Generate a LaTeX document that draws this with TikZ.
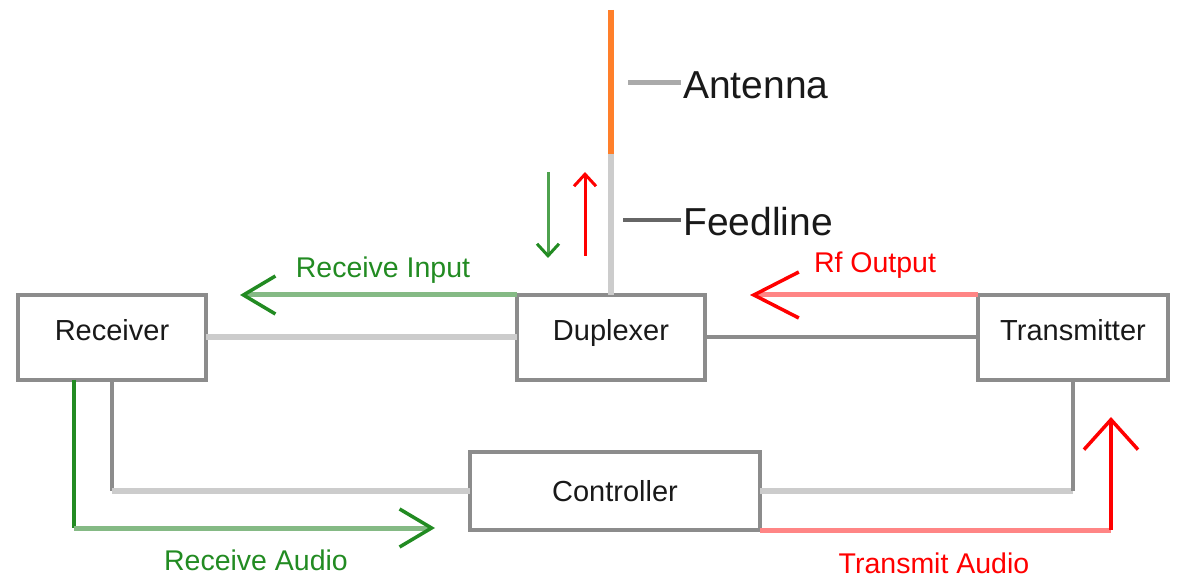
\documentclass[tikz,border=0pt]{standalone}
\usepackage{fontspec}
\setmainfont{Liberation Sans}
\usetikzlibrary{arrows.meta,calc}
\definecolor{boxgray}{HTML}{8C8C8C}
\definecolor{lgray}{HTML}{CCCCCC}
\definecolor{dashgray}{HTML}{AAAAAA}
\definecolor{dashdark}{HTML}{666666}
\definecolor{dgreen}{HTML}{228B22}
\definecolor{lgreen}{HTML}{85BA85}
\definecolor{pinkred}{HTML}{FF8585}
\definecolor{brred}{HTML}{FF0000}
\definecolor{orng}{HTML}{FF7F2A}
\begin{document}
\begin{tikzpicture}[x=1pt,y=-1pt,
  box/.style={draw=boxgray,line width=4pt,minimum width=#1,inner sep=0pt,outer sep=0pt,
    text=black!90,font=\fontsize{29}{34}\selectfont},
  uptext/.style={text height=0.72em,text depth=0.14em},
  lbl/.style={inner sep=0pt,font=\fontsize{28.5}{34}\selectfont},
  biglbl/.style={inner sep=2pt,anchor=west,text=black!90,font=\fontsize{39}{46}\selectfont},
  lgline/.style={draw=lgray,line width=6pt},
  gvline/.style={draw=boxgray,line width=4pt},
  greenh/.style={draw=lgreen,line width=5pt},
  greenv/.style={draw=dgreen,line width=4pt},
  redh/.style={draw=pinkred,line width=5pt},
  redv/.style={draw=brred,line width=4pt},
  bigtip/.style={-{Straight Barb[length=32pt,width=38pt,line width=3.5pt,color=#1]}},
  smalltip/.style={-{Straight Barb[length=12pt,width=22pt,line width=3pt,color=#1]}},
]
\useasboundingbox (0,0) rectangle (1179,577);

% boxes
\node[box=188pt,uptext,minimum height=85pt] (rec) at (112,337.5) {Receiver};
\node[box=188pt,uptext,minimum height=85pt] (dup) at (611,337.5) {Duplexer};
\node[box=190pt,uptext,minimum height=85pt] (tx) at (1073,337.5) {Transmitter};
\node[box=290pt,minimum height=78pt] (ctl) at (615,491) {Controller};

% antenna and feedline
\coordinate (antTop) at (611,10);
\coordinate (antBot) at (611,154);
\draw[draw=orng,line width=6pt] (antTop) -- (antBot);
\draw[lgline] (antBot) -- (dup.north);

\node[biglbl] (antL) at (681,85) {Antenna};
\node[biglbl] (feedL) at (681,222) {Feedline};
\draw[draw=dashgray,line width=5pt] ($(antL.west)+(-53,-2)$) -- ($(antL.west)+(0,-2)$);
\draw[draw=dashdark,line width=4pt] ($(feedL.west)+(-58,-2)$) -- ($(feedL.west)+(0,-2)$);

% small direction arrows
\coordinate (gdA) at (548,172);
\coordinate (gdB) at (548,258);
\coordinate (ruA) at (585,256);
\coordinate (ruB) at (585,172);
\draw[draw=dgreen!80,line width=3pt,smalltip=dgreen] (gdA) -- (gdB);
\draw[draw=brred,line width=3pt,smalltip=brred] (ruA) -- (ruB);

% box links
\draw[lgline] (rec.east) -- (dup.west);
\draw[gvline] (dup.east) -- (tx.west);
\draw[gvline] (rec.south) -- (rec.south |- ctl.west);
\draw[lgline] (rec.south |- ctl.west) -- (ctl.west);
\draw[lgline] (ctl.east) -- (ctl.east -| tx.south);
\draw[gvline] (ctl.east -| tx.south) -- (tx.south);

% Receive Input
\coordinate (riEnd) at (240,295);
\draw[greenh,bigtip=dgreen] (dup.north west) -- (riEnd);
\node[lbl,text=dgreen] (riL) at (383,270) {Receive Input};

% Rf Output
\coordinate (rfEnd) at (750,295);
\draw[redh,-{Straight Barb[length=45pt,width=46pt,line width=3.5pt,color=brred]}] (tx.north west) -- (rfEnd);
\node[lbl,text=brred] (rfL) at (875,265) {Rf Output};

% Receive Audio
\coordinate (raCorner) at (74,528);
\coordinate (raEnd) at (435,528);
\draw[greenv] ($(rec.south)+(-38,0)$) -- (raCorner);
\draw[greenh,bigtip=dgreen] (raCorner) -- (raEnd);
\node[lbl,text=dgreen] (raL) at (256,560) {Receive Audio};

% Transmit Audio
\coordinate (taCorner) at (1111,530);
\coordinate (taEnd) at (1111,417);
\draw[redh] (ctl.south east) -- (taCorner);
\draw[redv,-{Straight Barb[length=30pt,width=54pt,line width=3.5pt,color=brred]}] (taCorner) -- (taEnd);
\node[lbl,text=brred] (taL) at (934,563) {Transmit Audio};
\end{tikzpicture}
\end{document}
